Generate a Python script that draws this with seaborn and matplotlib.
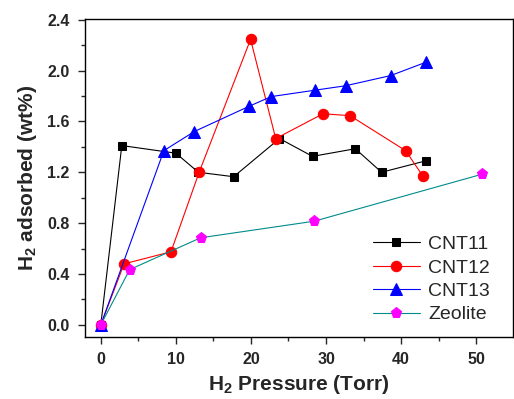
import matplotlib
matplotlib.use('Agg')
import matplotlib.pyplot as plt
from matplotlib.ticker import MultipleLocator, FormatStrFormatter
import seaborn as sns

# 数据
cnt11_x = [0, 2.8, 10.0, 13.0, 17.7, 23.8, 28.2, 33.9, 37.4, 43.3]
cnt11_y = [0.0, 1.41, 1.35, 1.20, 1.165, 1.465, 1.325, 1.385, 1.20, 1.29]

cnt12_x = [0, 3.1, 9.35, 13.1, 19.95, 23.3, 29.6, 33.2, 40.6, 42.9]
cnt12_y = [0.0, 0.48, 0.575, 1.20, 2.245, 1.465, 1.66, 1.645, 1.37, 1.17]

cnt13_x = [0, 8.4, 12.45, 19.8, 22.7, 28.5, 32.6, 38.6, 43.3]
cnt13_y = [0.0, 1.37, 1.52, 1.72, 1.795, 1.845, 1.88, 1.96, 2.065]

zeo_x = [0, 3.85, 13.3, 28.4, 50.8]
zeo_y = [0.0, 0.435, 0.685, 0.815, 1.185]

sns.set_style('ticks')
plt.rcParams['font.family'] = ['Liberation Sans', 'DejaVu Sans']
plt.rcParams['mathtext.fontset'] = 'custom'
plt.rcParams['mathtext.rm'] = 'Liberation Sans:bold'
plt.rcParams['mathtext.bf'] = 'Liberation Sans:bold'
plt.rcParams['mathtext.default'] = 'bf'

fig = plt.figure(figsize=(5.14, 3.99), dpi=100)
ax = fig.add_axes([0.1654, 0.1554, 0.8326, 0.797])

sns.lineplot(x=cnt11_x, y=cnt11_y, ax=ax, color='black', marker='s', markersize=6,
             markeredgecolor='black', linewidth=0.8, label='CNT11')
sns.lineplot(x=cnt12_x, y=cnt12_y, ax=ax, color='red', marker='o', markersize=7.5,
             markeredgecolor='red', linewidth=0.8, label='CNT12')
sns.lineplot(x=cnt13_x, y=cnt13_y, ax=ax, color='blue', marker='^', markersize=8,
             markeredgecolor='blue', linewidth=0.8, label='CNT13')
sns.lineplot(x=zeo_x, y=zeo_y, ax=ax, color='#008b8b', marker='p', markersize=8,
             markerfacecolor='magenta', markeredgecolor='magenta', linewidth=0.8,
             label='Zeolite')

ax.set_xlim(-2.1, 54.9)
ax.set_ylim(-0.095, 2.405)
ax.xaxis.set_major_locator(MultipleLocator(10))
ax.xaxis.set_minor_locator(MultipleLocator(5))
ax.yaxis.set_major_locator(MultipleLocator(0.4))
ax.yaxis.set_minor_locator(MultipleLocator(0.2))
ax.yaxis.set_major_formatter(FormatStrFormatter('%.1f'))

ax.tick_params(which='major', direction='out', length=5, width=1, labelsize=11.5, pad=6)
ax.tick_params(which='minor', direction='out', length=3, width=1)
for lab in ax.get_xticklabels() + ax.get_yticklabels():
    lab.set_fontweight('bold')
for s in ax.spines.values():
    s.set_linewidth(1)
    s.set_color('black')

ax.set_xlabel(r'H$_2$ Pressure (Torr)', fontsize=15, fontweight='bold', labelpad=4)
ax.set_ylabel(r'H$_2$ adsorbed (wt%)', fontsize=15, fontweight='bold', labelpad=6)

ax.legend(loc='center left', bbox_to_anchor=(0.673, 0.181), frameon=False, fontsize=14,
          handlelength=2.4, handletextpad=0.45, labelspacing=0.3, borderpad=0,
          borderaxespad=0)

fig.savefig('out.png', dpi=100)
